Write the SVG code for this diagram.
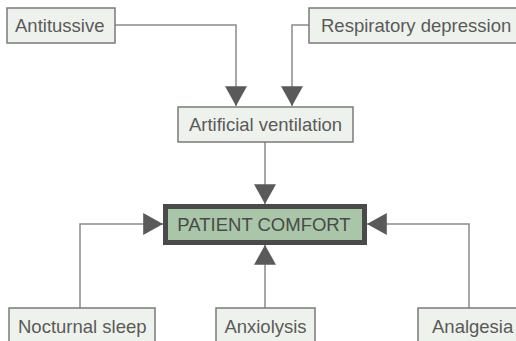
<svg xmlns="http://www.w3.org/2000/svg" width="516" height="341" viewBox="0 0 516 341">
<defs>
<style>
.box{fill:#eef2ec;stroke:#7a7a7a;stroke-width:1.5}
.lbl{font-family:"Liberation Sans",Arial,sans-serif;font-size:18.5px;fill:#5a5a5a}
.con{fill:none;stroke:#8a8a8a;stroke-width:1.5}
.main{fill:#a9c6a9;stroke:#4a4a4a;stroke-width:5}
</style>
<marker id="ah" markerUnits="userSpaceOnUse" markerWidth="20" markerHeight="22" viewBox="0 0 18 20" refX="18" refY="10" orient="auto">
<path d="M0,0 L18,10 L0,20 Z" fill="#5a5a5a"/>
</marker>
</defs>
<rect width="516" height="341" fill="#fff"/>
<g id="connectors">
<path class="con" d="M115,25 H236 V106" marker-end="url(#ah)"/>
<path class="con" d="M309,25 H292 V106" marker-end="url(#ah)"/>
<path class="con" d="M265,142 V204" marker-end="url(#ah)"/>
<path class="con" d="M80,308 V224 H163" marker-end="url(#ah)"/>
<path class="con" d="M265,308 V245" marker-end="url(#ah)"/>
<path class="con" d="M469,308 V224 H367" marker-end="url(#ah)"/>
</g>
<g id="antitussive">
<rect class="box" x="7" y="8" width="108" height="35"/>
<text class="lbl" x="15" y="32">Antitussive</text>
</g>
<g id="respiratory">
<rect class="box" x="309" y="8" width="220" height="35"/>
<text class="lbl" x="321" y="32">Respiratory depression</text>
</g>
<g id="ventilation">
<rect class="box" x="178" y="107" width="175" height="35"/>
<text class="lbl" x="265.5" y="131" text-anchor="middle">Artificial ventilation</text>
</g>
<g id="comfort">
<rect class="main" x="165.5" y="206.5" width="199" height="36"/>
<text class="lbl" x="264" y="231" text-anchor="middle" style="fill:#4a4a4a">PATIENT COMFORT</text>
</g>
<g id="sleep">
<rect class="box" x="9" y="308" width="146" height="40"/>
<text class="lbl" x="18" y="333">Nocturnal sleep</text>
</g>
<g id="anxiolysis">
<rect class="box" x="216" y="308" width="99" height="40"/>
<text class="lbl" x="265.5" y="333" text-anchor="middle">Anxiolysis</text>
</g>
<g id="analgesia">
<rect class="box" x="418" y="308" width="110" height="40"/>
<text class="lbl" x="432" y="333">Analgesia</text>
</g>
</svg>
